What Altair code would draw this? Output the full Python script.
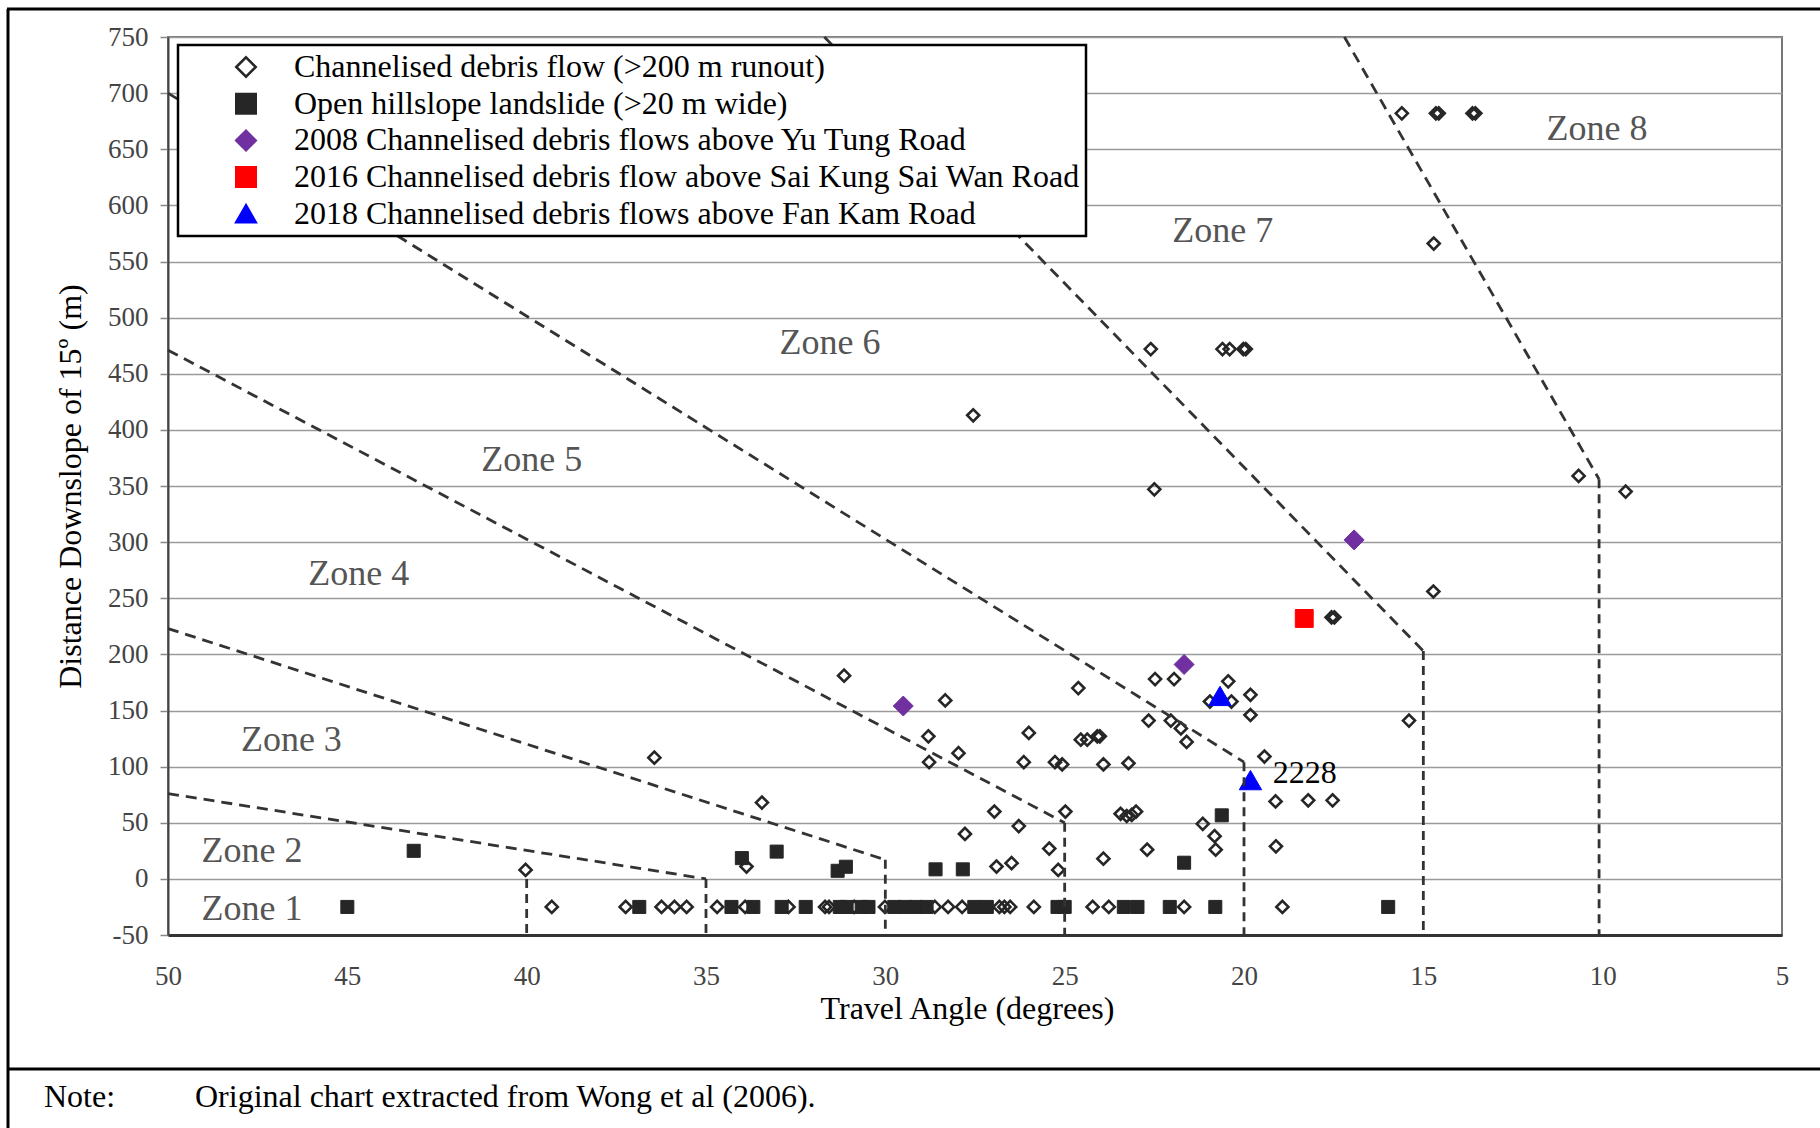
import altair as alt
import pandas as pd

FONT = "Liberation Serif"

# ---------------- data ----------------
cats = [
    "Channelised debris flow (>200 m runout)",
    "Open hillslope landslide (>20 m wide)",
    "2008 Channelised debris flows above Yu Tung Road",
    "2016 Channelised debris flow above Sai Kung Sai Wan Road",
    "2018 Channelised debris flows above Fan Kam Road",
]
cat_shapes = ["diamond", "square", "diamond", "square", "triangle-up"]
cat_fill = ["transparent", "#262626", "#7030a0", "#ff0000", "#0000ff"]
cat_stroke = ["#262626", "#262626", "#7030a0", "#ff0000", "#0000ff"]
cat_size = [145, 170, 400, 320, 500]
cat_sw = [2.6, 1, 1, 1, 1]

# Channelised debris flows (open diamonds)
cdf_x = [39.3, 37.24, 36.24, 35.88, 35.54, 34.69, 33.91, 32.7, 31.68, 31.57, 30.87, 30.01,
         28.62, 28.25, 27.86, 26.82, 26.68, 26.52, 25.86, 24.22, 23.77, 21.67, 18.93,
         40.03, 36.44, 33.44, 33.87, 31.15, 27.55, 22.5, 22.6, 20.6, 20.4, 20.02, 19.95,
         15.6, 14.65, 14.57, 13.63, 13.55, 14.71, 10.67, 9.36, 14.72, 15.4,
         17.56, 17.48,
         22.48, 21.95, 20.44, 24.62, 19.82, 20.95, 20.35, 28.33, 19.82, 22.66, 22.04, 21.76,
         21.6, 28.8, 26.0, 24.55, 24.37, 24.09, 24.02, 19.43, 28.78, 27.96, 26.14, 25.27,
         25.07, 23.92, 23.22, 19.12, 18.21, 17.53, 26.96, 24.98, 23.44, 23.27, 23.13, 23.01,
         27.78, 26.28, 21.15, 20.82, 20.79, 25.43, 22.7, 19.11, 23.92, 26.9, 26.48, 25.18]
cdf_y = [-25, -25, -25, -25, -25, -25, -25, -25, -25, -25, -25, -25,
         -25, -25, -25, -25, -25, -25, -25, -25, -25, -25, -25,
         8, 108, 68, 11, 181, 413, 347, 472, 472, 472, 472, 472,
         682, 682, 682, 682, 682, 566, 359, 345, 256, 141,
         233, 233,
         178, 178, 176, 170, 164, 158, 158, 159, 146, 141, 141, 134,
         122, 127, 130, 124, 124, 127, 127, 109, 104, 112, 104, 104,
         102, 102, 103, 69, 70, 70, 60, 60, 58, 56, 57, 60,
         40, 47, 49, 38, 26, 27, 26, 29, 18, 11, 14, 8]

# Open hillslope landslides (black squares)
ohl_x = [45.0, 36.86, 34.29, 33.68, 32.89, 32.22, 31.27, 31.08, 30.66, 30.47, 29.75, 29.45,
         29.15, 28.85, 27.52, 27.17, 25.2, 25.0, 23.35, 22.97, 22.07, 20.8, 15.98,
         43.15, 34.0, 33.03, 31.33, 31.1, 28.6, 27.84, 21.67, 20.62]
ohl_y = [-25, -25, -25, -25, -25, -25, -25, -25, -25, -25, -25, -25,
         -25, -25, -25, -25, -25, -25, -25, -25, -25, -25, -25,
         25, 18.5, 24.3, 7.2, 10.8, 8.5, 8.5, 14.4, 56.6]

# 2008 Yu Tung Road
yt_x = [29.5, 21.67, 16.93]
yt_y = [154, 191, 302]
# 2016 Sai Kung Sai Wan Road
sk_x = [18.32]
sk_y = [232]
# 2018 Fan Kam Road
fk_x = [20.67, 19.82]
fk_y = [163, 88]

# point label
lab_text = ["2228"]
lab_x = [19.2]
lab_y = [94]

# zone boundaries (sloping parts)
bound_x1 = [50, 50, 50, 50, 31.7, 17.2]
bound_y1 = [76, 223, 471, 700, 750, 750]
bound_x2 = [35, 30, 25, 20, 15, 10.1]
bound_y2 = [0, 17, 50, 104, 203, 356]
# zone boundaries (vertical parts)
vert_x = [40, 35, 30, 25, 20, 15, 10.1]
vert_top = [0, 0, 17, 50, 104, 203, 356]
vert_bottom = [-50, -50, -50, -50, -50, -50, -50]

# zone labels
zone_names = ["Zone 1", "Zone 2", "Zone 3", "Zone 4", "Zone 5", "Zone 6", "Zone 7", "Zone 8"]
zone_x = [47.66, 47.66, 46.56, 44.68, 39.86, 31.54, 20.59, 10.16]
zone_y = [-26.6, 25, 124, 272, 373.5, 477, 577, 667.6]

x_ticks = [50, 45, 40, 35, 30, 25, 20, 15, 10, 5]
y_ticks = list(range(-50, 751, 50))

note_label = "Note:"
note_text = "Original chart extracted from Wong et al (2006)."

# ---------------- tables ----------------
cat_col = ([cats[0]] * len(cdf_x) + [cats[1]] * len(ohl_x) + [cats[2]] * len(yt_x)
           + [cats[3]] * len(sk_x) + [cats[4]] * len(fk_x))
pts = pd.DataFrame({
    "x": cdf_x + ohl_x + yt_x + sk_x + fk_x,
    "y": cdf_y + ohl_y + yt_y + sk_y + fk_y,
    "cat": cat_col,
})
pts["sz"] = pts["cat"].map(dict(zip(cats, cat_size)))
pts["sw"] = pts["cat"].map(dict(zip(cats, cat_sw)))

bounds = pd.DataFrame({"x": bound_x1, "y": bound_y1, "x2": bound_x2, "y2": bound_y2})
verts = pd.DataFrame({"x": vert_x, "y": vert_top, "y2": vert_bottom})
zones = pd.DataFrame({"x": zone_x, "y": zone_y, "t": zone_names})
labs = pd.DataFrame({"x": lab_x, "y": lab_y, "t": lab_text})
one = pd.DataFrame({"a": [0]})

W, H = 1614, 898
PL, PT = 168, 37

xscale = alt.Scale(domain=[5, 50], reverse=True, nice=False, zero=False)
yscale = alt.Scale(domain=[-50, 750], nice=False, zero=False)

x_axis = alt.Axis(values=x_ticks, grid=False, ticks=False, tickSize=0,
                  labelFont=FONT, labelFontSize=27, labelColor="#444",
                  labelBaseline="middle", labelPadding=41, labelFlush=False,
                  domainColor="#333", domainWidth=3,
                  title="Travel Angle (degrees)", titleFont=FONT, titleFontSize=32,
                  titleFontWeight="normal", titleColor="#000",
                  titleX=799, titleY=73, titleBaseline="middle", titleAlign="center")
y_axis = alt.Axis(values=y_ticks, grid=True, gridColor="#9a9a9a", gridWidth=1.5,
                  ticks=True, tickSize=8, tickColor="#888", tickWidth=1.5,
                  labelFont=FONT, labelFontSize=27, labelColor="#444", labelPadding=12,
                  labelExpr="'' + datum.value", labelFlush=False,
                  domainColor="#444", domainWidth=2,
                  title="Distance Downslope of 15º (m)", titleFont=FONT, titleFontSize=32,
                  titleFontWeight="normal", titleColor="#000",
                  titleX=-98, titleY=449, titleAngle=270,
                  titleBaseline="middle", titleAlign="center")

legend_kw = dict(title=None, orient="none", legendX=10, legendY=8,
                 labelFont=FONT, labelFontSize=32, labelColor="#000", labelLimit=2000,
                 symbolSize=380, symbolStrokeWidth=2.5, symbolOffset=46, labelOffset=32,
                 padding=6, rowPadding=4.7, strokeColor="#000", fillColor="white")

base_pts = alt.Chart(pts).mark_point(filled=True, opacity=1).encode(
    x=alt.X("x:Q", scale=xscale, axis=x_axis),
    y=alt.Y("y:Q", scale=yscale, axis=y_axis),
    shape=alt.Shape("cat:N", scale=alt.Scale(domain=cats, range=cat_shapes),
                    legend=alt.Legend(**legend_kw)),
    fill=alt.Fill("cat:N", scale=alt.Scale(domain=cats, range=cat_fill),
                  legend=alt.Legend(**legend_kw)),
    stroke=alt.Stroke("cat:N", scale=alt.Scale(domain=cats, range=cat_stroke),
                      legend=alt.Legend(**legend_kw)),
    size=alt.Size("sz:Q", scale=None, legend=None),
    strokeWidth=alt.StrokeWidth("sw:Q", scale=None, legend=None),
)

bound_layer = alt.Chart(bounds).mark_rule(color="#333", strokeWidth=2.8,
                                          strokeDash=[11, 7]).encode(
    x=alt.X("x:Q", scale=xscale), y=alt.Y("y:Q", scale=yscale),
    x2="x2:Q", y2="y2:Q")
vert_layer = alt.Chart(verts).mark_rule(color="#333", strokeWidth=2.8,
                                        strokeDash=[9, 6]).encode(
    x=alt.X("x:Q", scale=xscale), y=alt.Y("y:Q", scale=yscale), y2="y2:Q")

zone_layer = alt.Chart(zones).mark_text(font=FONT, fontSize=36, color="#555",
                                        align="center", baseline="middle").encode(
    x=alt.X("x:Q", scale=xscale), y=alt.Y("y:Q", scale=yscale), text="t:N")
lab_layer = alt.Chart(labs).mark_text(font=FONT, fontSize=32, color="#000",
                                      align="left", baseline="middle").encode(
    x=alt.X("x:Q", scale=xscale), y=alt.Y("y:Q", scale=yscale), text="t:N")

# outer frame and note (page decoration)
fr_top = alt.Chart(one).mark_rule(color="#000", strokeWidth=3).encode(
    x=alt.value(7 - PL), x2=alt.value(1820 - PL), y=alt.value(9 - PT))
fr_left = alt.Chart(one).mark_rule(color="#000", strokeWidth=3).encode(
    x=alt.value(8 - PL), y=alt.value(9 - PT), y2=alt.value(1128 - PT))
fr_sep = alt.Chart(one).mark_rule(color="#000", strokeWidth=3).encode(
    x=alt.value(7 - PL), x2=alt.value(1820 - PL), y=alt.value(1069 - PT))
note1 = alt.Chart(one).mark_text(font=FONT, fontSize=32, color="#000", align="left",
                                 baseline="middle").encode(
    x=alt.value(44 - PL), y=alt.value(1097 - PT), text=alt.value(note_label))
note2 = alt.Chart(one).mark_text(font=FONT, fontSize=32, color="#000", align="left",
                                 baseline="middle").encode(
    x=alt.value(195 - PL), y=alt.value(1097 - PT), text=alt.value(note_text))

chart = alt.layer(
    base_pts, bound_layer, vert_layer, zone_layer, lab_layer,
    fr_top, fr_left, fr_sep, note1, note2,
).properties(
    width=W, height=H,
    autosize=alt.AutoSizeParams(type="none"),
    padding={"left": PL, "top": PT, "right": 1820 - PL - W, "bottom": 1128 - PT - H},
    background="white",
).configure_view(
    stroke="#777", strokeWidth=2,
).configure_legend(
    strokeWidth=2.5,
)

chart.save("out.html", embed_options={"renderer": "svg", "actions": False})
